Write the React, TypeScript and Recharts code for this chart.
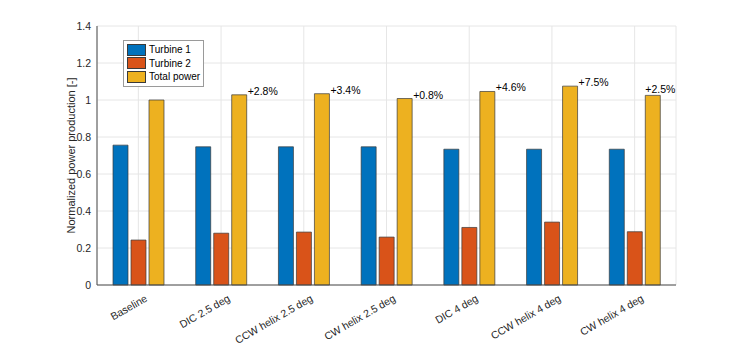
import React from 'react'
import {
  Bar,
  BarChart,
  CartesianGrid,
  Label,
  LabelList,
  Legend,
  XAxis,
  YAxis,
} from 'recharts'

const categories = [
  'Baseline',
  'DIC 2.5 deg',
  'CCW helix 2.5 deg',
  'CW helix 2.5 deg',
  'DIC 4 deg',
  'CCW helix 4 deg',
  'CW helix 4 deg',
]
const turbine1 = [0.756, 0.747, 0.747, 0.747, 0.734, 0.734, 0.734]
const turbine2 = [0.243, 0.28, 0.286, 0.259, 0.311, 0.34, 0.288]
const totalPower = [1.0, 1.028, 1.034, 1.008, 1.046, 1.075, 1.025]
const gainLabels = ['', '+2.8%', '+3.4%', '+0.8%', '+4.6%', '+7.5%', '+2.5%']
const seriesNames = ['Turbine 1', 'Turbine 2', 'Total power']
const yTicks = [0, 0.2, 0.4, 0.6, 0.8, 1, 1.2, 1.4]

const BLUE = '#0072BD'
const ORANGE = '#D95319'
const YELLOW = '#EDB120'
const seriesColors = [BLUE, ORANGE, YELLOW]
const TEXT = '#262626'
const AXIS = '#4d4d4d'
const FONT = '"Liberation Sans", Arial, Helvetica, sans-serif'

const data = categories.map((name, i) => ({
  name,
  t1: turbine1[i],
  t2: turbine2[i],
  total: totalPower[i],
  gain: gainLabels[i],
}))

function XTick({ x, y, payload }: any) {
  const px = x + 6
  const py = y + 9
  return (
    <text
      x={px}
      y={py}
      dy="0.71em"
      textAnchor="end"
      transform={`rotate(-30, ${px}, ${py})`}
      fontSize={10.5}
      fontFamily={FONT}
      fill={TEXT}
    >
      {payload.value}
    </text>
  )
}

function GainLabel({ x, y, width, value, index }: any) {
  if (!value) return null
  const last = index === categories.length - 1
  return (
    <text
      x={last ? x : x + width + 1}
      y={last ? y - 2 : y}
      fontSize={10.5}
      fontFamily={FONT}
      fill="#000"
    >
      {value}
    </text>
  )
}

// fixed order, recharts sorts the payload otherwise
function LegendBox() {
  return (
    <div
      style={{
        border: '1px solid #9a9a9a',
        background: '#fff',
        padding: '2px 3px 2px 3px',
        fontFamily: FONT,
        fontSize: 10,
        color: '#000',
        lineHeight: '13.5px',
      }}
    >
      {seriesNames.map((n, i) => (
        <div key={n} style={{ display: 'flex', alignItems: 'center' }}>
          <span
            style={{
              display: 'inline-block',
              width: 17,
              height: 10,
              background: seriesColors[i],
              border: '1px solid #3a3a3a',
              marginRight: 3,
            }}
          />
          {n}
        </div>
      ))}
    </div>
  )
}

export default function App() {
  return (
    <div style={{ position: 'absolute', left: 0, top: 0, background: '#fff' }}>
      <BarChart
        width={747}
        height={344}
        data={data}
        margin={{ top: 26, right: 71, left: 0, bottom: 0 }}
        barGap={3}
        barSize={15}
      >
        <CartesianGrid stroke="#e6e6e6" strokeWidth={1} />
        <XAxis
          dataKey="name"
          height={59}
          tick={<XTick />}
          tickLine={false}
          tickSize={0}
          tickMargin={0}
          interval={0}
          axisLine={{ stroke: AXIS }}
        />
        <XAxis
          xAxisId="top"
          orientation="top"
          dataKey="name"
          height={0}
          tick={false}
          tickLine={false}
          axisLine={{ stroke: AXIS }}
        />
        <YAxis
          width={97}
          domain={[0, 1.4]}
          ticks={yTicks}
          tickFormatter={(v: number) => String(+v.toFixed(1))}
          tick={{ fontSize: 10.5, fill: TEXT, fontFamily: FONT }}
          tickLine={false}
          tickSize={4}
          tickMargin={2}
          axisLine={{ stroke: AXIS }}
        >
          <Label
            content={({ viewBox }: any) => {
              const cx = viewBox.x + 71
              const cy = viewBox.y + viewBox.height / 2
              return (
                <text
                  x={cx}
                  y={cy}
                  transform={`rotate(-90, ${cx}, ${cy})`}
                  textAnchor="middle"
                  dominantBaseline="central"
                  fontSize={11}
                  fontFamily={FONT}
                  fill={TEXT}
                >
                  Normalized power production [-]
                </text>
              )
            }}
          />
        </YAxis>
        <YAxis
          yAxisId="right"
          orientation="right"
          width={0}
          domain={[0, 1.4]}
          tick={false}
          tickLine={false}
          axisLine={{ stroke: AXIS }}
        />
        <Legend
          layout="horizontal"
          align="center"
          verticalAlign="middle"
          content={<LegendBox />}
          wrapperStyle={{ position: 'absolute', left: 123, top: 40, width: 'auto' }}
        />
        <Bar dataKey="t1" name="Turbine 1" fill={BLUE} stroke="#3a3a3a" strokeWidth={0.7} isAnimationActive={false} />
        <Bar dataKey="t2" name="Turbine 2" fill={ORANGE} stroke="#3a3a3a" strokeWidth={0.7} isAnimationActive={false} />
        <Bar dataKey="total" name="Total power" fill={YELLOW} stroke="#3a3a3a" strokeWidth={0.7} isAnimationActive={false}>
          <LabelList dataKey="gain" content={<GainLabel />} />
        </Bar>
      </BarChart>
    </div>
  )
}
